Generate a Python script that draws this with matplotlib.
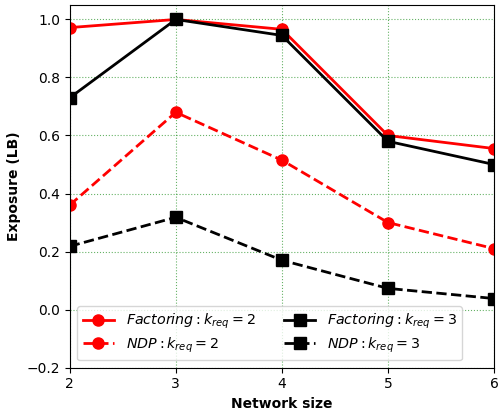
import matplotlib
matplotlib.use("Agg")
import matplotlib.pyplot as plt

sizes = [2, 3, 4, 5, 6]
fact_k2 = [0.972, 1.0, 0.966, 0.600, 0.555]
fact_k3 = [0.730, 1.0, 0.945, 0.580, 0.500]
ndp_k2 = [0.360, 0.680, 0.515, 0.300, 0.210]
ndp_k3 = [0.218, 0.318, 0.170, 0.073, 0.038]

fig, ax = plt.subplots(figsize=(4.98, 4.13), dpi=100)

ax.plot(sizes, fact_k2, "r-o", lw=2, ms=8, label=r"$Factoring: k_{req}=2$")
ax.plot(sizes, ndp_k2, "r--o", lw=2, ms=8, label=r"$NDP: k_{req}=2$")
ax.plot(sizes, fact_k3, "k-s", lw=2, ms=8, label=r"$Factoring: k_{req}=3$")
ax.plot(sizes, ndp_k3, "k--s", lw=2, ms=8, label=r"$NDP: k_{req}=3$")

ax.set_xlim(2, 6)
ax.set_ylim(-0.2, 1.05)
ax.set_xticks(sizes)
ax.grid(True, color="green", linestyle=":", linewidth=0.8, alpha=0.6)
ax.tick_params(labelsize=10)
ax.set_xlabel("Network size", fontweight="bold", fontsize=10)
ax.set_ylabel("Exposure (LB)", fontweight="bold", fontsize=10)
ax.legend(ncol=2, loc="lower left", bbox_to_anchor=(0.0, 0.0), fontsize=10.3,
          handlelength=2.2, labelspacing=0.3)

fig.subplots_adjust(left=0.14, right=0.992, top=0.988, bottom=0.11)
fig.savefig("out.png", dpi=100)
